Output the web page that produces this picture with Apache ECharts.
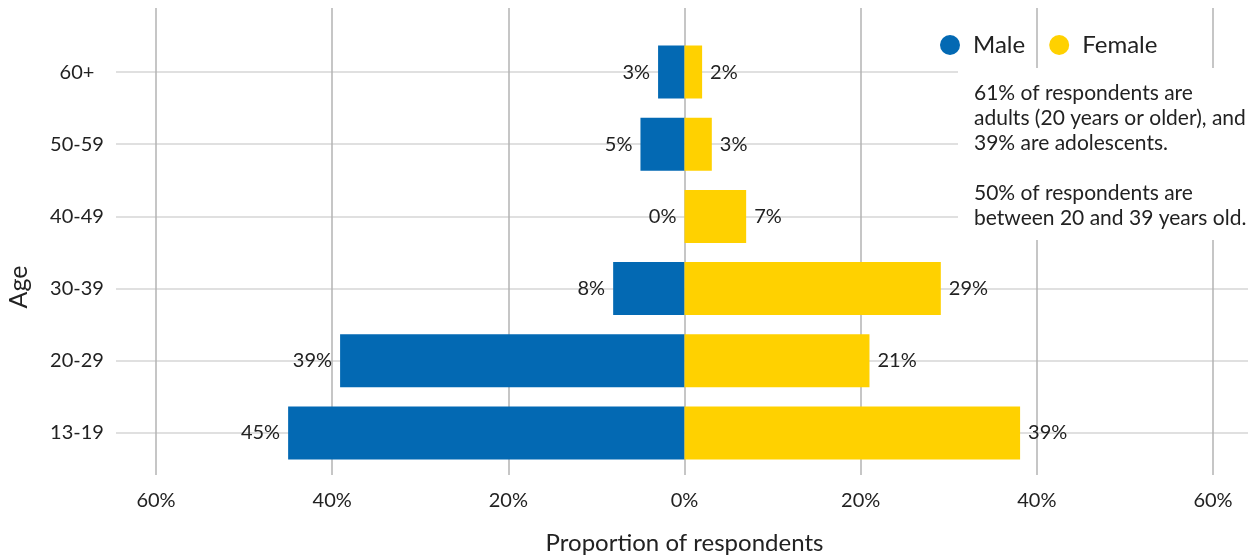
<!DOCTYPE html>
<html>
<head>
<meta charset="utf-8">
<script src="https://cdn.jsdelivr.net/npm/echarts@6/dist/echarts.min.js"></script>
<style>
  html, body { margin: 0; padding: 0; background: #fff; }
  #container1 { width: 1257px; height: 560px; }
</style>
</head>
<body>
<div id="container1"></div>
<script>
var ageGroups = ['13-19', '20-29', '30-39', '40-49', '50-59', '60+'];
var maleValues = [45, 39.1, 8.1, 0, 5, 3];
var femaleValues = [38.1, 21, 29.1, 7, 3.1, 2];
var maleLabels = ['45%', '39%', '8%', '0%', '5%', '3%'];
var femaleLabels = ['39%', '21%', '29%', '7%', '3%', '2%'];
var xTicks = [-60, -40, -20, 0, 20, 40, 60];

var dom = document.getElementById("container1");
var myChart = echarts.init(dom);
var font = 'Lato, "DejaVu Sans", sans-serif';

var option = {
    animation: false,
    textStyle: { fontFamily: font },
    color: ['#0369b3', '#ffd100'],
    legend: {
        icon: 'circle',
        itemWidth: 20,
        itemHeight: 20,
        itemGap: 24,
        left: 935,
        top: 28,
        textStyle: { color: '#222', fontSize: 24, fontFamily: font, padding: [0, 0, 0, 8] },
        data: ['Male', 'Female']
    },
    grid: [
        // horizontal guide lines (wider than plot)
        { left: 116, right: 9, top: 72, bottom: 127 },
        // vertical grid + x labels
        { left: 156, right: 44, top: 8, bottom: 77 },
        // bars
        { left: 156, right: 44, top: 36, bottom: 91 }
    ],
    xAxis: [
        { gridIndex: 0, type: 'value', min: 0, max: 1, show: false },
        {
            gridIndex: 1, type: 'value', min: xTicks[0], max: xTicks[xTicks.length - 1], interval: 20,
            axisLine: { show: false }, axisTick: { show: false },
            axisLabel: { color: '#222', fontSize: 20, margin: 16, formatter: function (v) { return Math.abs(v) + '%'; } },
            splitLine: { lineStyle: { color: '#b3b3b3', width: 1.5 } },
            name: 'Proportion of respondents', nameLocation: 'middle', nameGap: 56,
            nameTextStyle: { color: '#222', fontSize: 24 }
        },
        { gridIndex: 2, type: 'value', min: -60, max: 60, show: false }
    ],
    yAxis: [
        {
            gridIndex: 0, type: 'category', data: ageGroups, boundaryGap: false,
            axisLine: { show: false }, axisTick: { show: false }, axisLabel: { show: false },
            splitLine: { show: true, lineStyle: { color: '#d6d6d6', width: 1.5 } }
        },
        { gridIndex: 1, type: 'value', min: 0, max: 1, show: false },
        {
            gridIndex: 2, type: 'category', data: ageGroups,
            axisLine: { show: false }, axisTick: { show: false },
            axisLabel: { color: '#222', fontSize: 20, margin: 79, align: 'center' }
        }
    ],
    series: [
        {
            name: 'Male', type: 'bar', xAxisIndex: 2, yAxisIndex: 2,
            barWidth: 53, barGap: '-100%',
            data: maleValues.map(function (v) { return -v; }),
            label: {
                show: true, position: 'left', distance: 8, color: '#222', fontSize: 20,
                formatter: function (p) { return maleLabels[p.dataIndex]; }
            }
        },
        {
            name: 'Female', type: 'bar', xAxisIndex: 2, yAxisIndex: 2,
            barWidth: 53, barGap: '-100%',
            data: femaleValues,
            label: {
                show: true, position: 'right', distance: 8, color: '#222', fontSize: 20,
                formatter: function (p) { return femaleLabels[p.dataIndex]; }
            }
        }
    ],
    graphic: [
        {
            type: 'rect', left: 958, top: 68, z: 50,
            shape: { width: 299, height: 172 },
            style: { fill: '#fff' }
        },
        {
            type: 'text', left: 974, top: 81, z: 51,
            style: {
                text: '61% of respondents are\nadults (20 years or older), and\n39% are adolescents.\n\n50% of respondents are\nbetween 20 and 39 years old.',
                font: '21px ' + font, fill: '#222', lineHeight: 25
            }
        },
        {
            type: 'text', x: 19, y: 287, rotation: Math.PI / 2, z: 51,
            style: { text: 'Age', font: '25px ' + font, fill: '#222', align: 'center', verticalAlign: 'middle' }
        }
    ]
};

if (option && typeof option === "object") {
    myChart.setOption(option, true);
}
</script>
</body>
</html>
